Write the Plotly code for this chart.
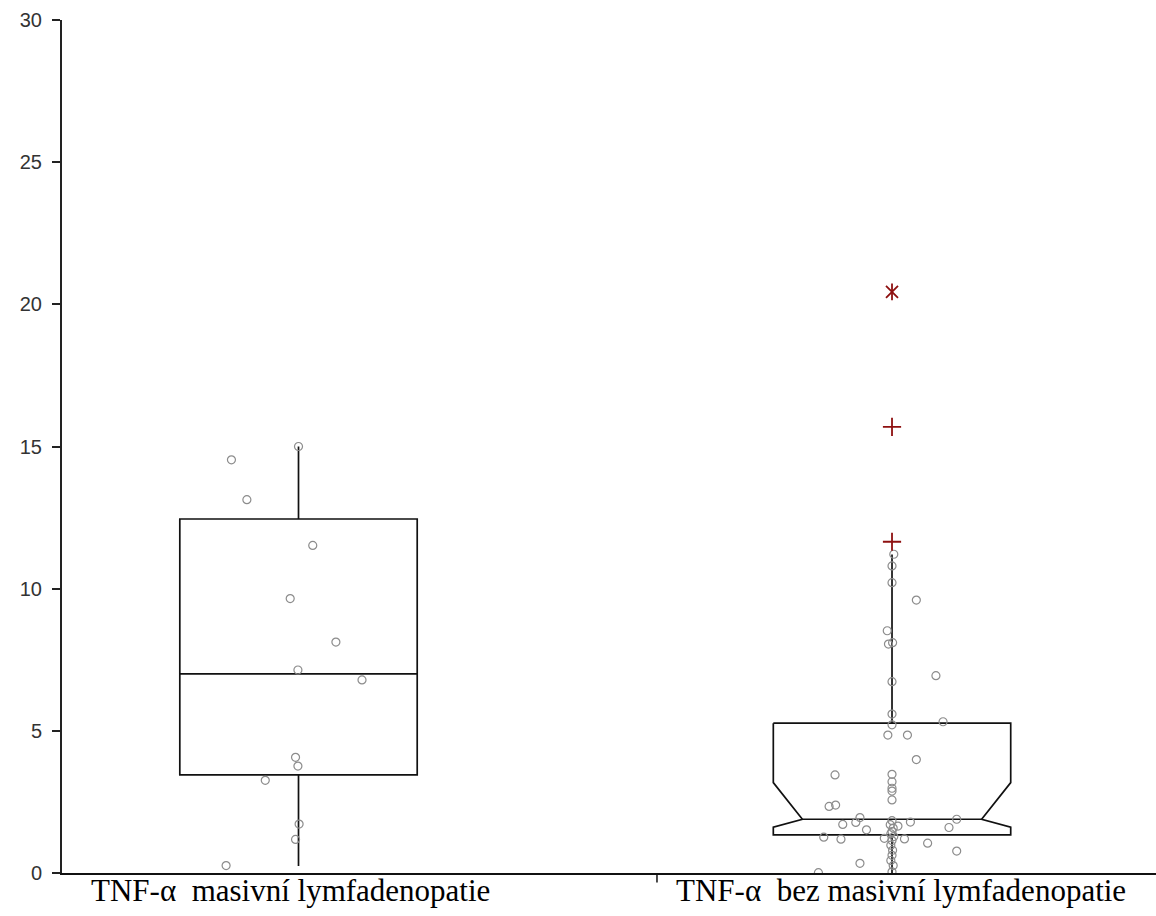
import plotly.graph_objects as go

# Category labels and their positions on the x axis
categories = ["TNF-\u03b1  masivn\u00ed lymfadenopatie", "TNF-\u03b1  bez masivn\u00ed lymfadenopatie"]
cat_pos = [1, 2]

# Group 1: TNF-alpha with massive lymphadenopathy
g1_values = [15.0, 14.53, 13.13, 11.52, 9.65, 8.12, 7.14, 6.79, 4.07, 3.76, 3.26, 1.72, 1.18, 0.26]
g1_jitter = [0.0, -0.113, -0.087, 0.024, -0.014, 0.063, -0.001, 0.107, -0.005, -0.001, -0.056, 0.001, -0.005, -0.122]
g1_stats = dict(lower=0.25, q1=3.45, median=7.0, q3=12.45, upper=15.0)

# Group 2: TNF-alpha without massive lymphadenopathy
g2_values = [11.21, 10.80, 10.21, 9.60, 8.52, 8.05, 8.10, 6.94, 6.73, 5.59, 5.21, 5.32, 4.85, 4.85,
             3.99, 3.45, 3.47, 3.21, 2.98, 2.88, 2.57, 2.34, 2.39, 1.95, 1.78, 1.71, 1.52, 1.26,
             1.19, 1.22, 1.79, 1.65, 1.20, 1.89, 1.60, 1.05, 0.77, 0.34, 0.01,
             1.84, 1.70, 1.58, 1.46, 1.38, 1.28, 1.14, 0.98, 0.80, 0.62, 0.44, 0.26, 0.04]
g2_jitter = [0.003, 0.0, 0.0, 0.041, -0.008, -0.006, 0.001, 0.074, 0.0, 0.0, 0.0, 0.086, -0.007, 0.026,
             0.041, -0.096, 0.0, 0.0, 0.0, 0.0, 0.0, -0.106, -0.095, -0.054, -0.061, -0.083, -0.043, -0.115,
             -0.086, -0.013, 0.031, 0.010, 0.021, 0.109, 0.096, 0.060, 0.109, -0.054, -0.124,
             0.0, -0.003, 0.002, 0.0, -0.002, 0.003, 0.0, -0.002, 0.001, 0.0, -0.002, 0.002, 0.0]
g2_stats = dict(lower=0.0, q1=1.34, median=1.89, q3=5.27, upper=11.2, notch_lo=1.61, notch_hi=3.18)
g2_outliers = [11.65, 15.69]
g2_extreme = [20.44]

box_half = 0.2
notch_in = 0.049
y_ticks = [0, 5, 10, 15, 20, 25, 30]

fig = go.Figure()

# Plain box for group 1
fig.add_trace(go.Box(
    x=[cat_pos[0]], q1=[g1_stats["q1"]], median=[g1_stats["median"]], q3=[g1_stats["q3"]],
    lowerfence=[g1_stats["lower"]], upperfence=[g1_stats["upper"]],
    width=2 * box_half, whiskerwidth=0, boxpoints=False,
    line=dict(color="#111111", width=1.7), fillcolor="rgba(255,255,255,0)",
    hoverinfo="skip", showlegend=False,
))

# Notched outline for group 2
c = cat_pos[1]
s = g2_stats
xl, xr = c - box_half, c + box_half
bx = [xl, xr, xr, xr - notch_in, xr, xr, xl, xl, xl + notch_in, xl, xl, None,
      xl + notch_in, xr - notch_in, None, c, c, None, c, c]
by = [s["q3"], s["q3"], s["notch_hi"], s["median"], s["notch_lo"], s["q1"], s["q1"], s["notch_lo"],
      s["median"], s["notch_hi"], s["q3"], None, s["median"], s["median"], None,
      s["q3"], s["upper"], None, s["q1"], s["lower"]]
fig.add_trace(go.Scatter(x=bx, y=by, mode="lines", line=dict(color="#111111", width=1.7),
                         hoverinfo="skip", showlegend=False))

# Individual observations
pt_style = dict(symbol="circle-open", size=8, color="#8c8c8c", line=dict(width=1.2))
fig.add_trace(go.Scatter(x=[cat_pos[0] + j for j in g1_jitter], y=g1_values, mode="markers",
                         marker=pt_style, showlegend=False))
fig.add_trace(go.Scatter(x=[cat_pos[1] + j for j in g2_jitter], y=g2_values, mode="markers",
                         marker=pt_style, showlegend=False))

# Outliers
red = "#8e1010"
fig.add_trace(go.Scatter(x=[c] * len(g2_outliers), y=g2_outliers, mode="markers",
                         marker=dict(symbol="cross-thin-open", size=13, color=red, line=dict(width=1.8, color=red)),
                         showlegend=False))
for sym in ["x-thin-open", "line-ns-open"]:
    fig.add_trace(go.Scatter(x=[c] * len(g2_extreme), y=g2_extreme, mode="markers",
                             marker=dict(symbol=sym, size=12, color=red, line=dict(width=1.8, color=red)),
                             showlegend=False))

# Category separator tick on the x axis
sep = 1.604
fig.add_shape(type="line", xref="x", yref="paper", x0=sep, x1=sep, y0=0, y1=-0.011,
              line=dict(color="#111111", width=1.5))

# Category labels below the axis
label_shift = [-8, 9]
for pos, txt, dx in zip(cat_pos, categories, label_shift):
    fig.add_annotation(x=pos, y=0, xref="x", yref="paper", text=txt, showarrow=False,
                       xanchor="center", yanchor="middle", xshift=dx, yshift=-17,
                       font=dict(family="Liberation Serif", size=31, color="#000000"))

fig.update_layout(
    width=1156, height=916,
    margin=dict(l=62, r=0, t=20, b=43),
    paper_bgcolor="white", plot_bgcolor="white",
    showlegend=False,
)
fig.update_xaxes(
    range=[0.6015, 2.4448], showticklabels=False,
    ticks="", showgrid=False, zeroline=False,
    showline=True, linecolor="#111111", linewidth=2,
)
fig.update_yaxes(
    range=[0, 30], tickvals=y_ticks, ticks="outside", ticklen=8, tickcolor="#222222", tickwidth=1.5,
    ticklabelstandoff=6,
    showgrid=False, zeroline=False,
    showline=True, linecolor="#222222", linewidth=2,
    tickfont=dict(family="Liberation Sans", size=20, color="#333333"),
)

fig.write_html("out.html")
